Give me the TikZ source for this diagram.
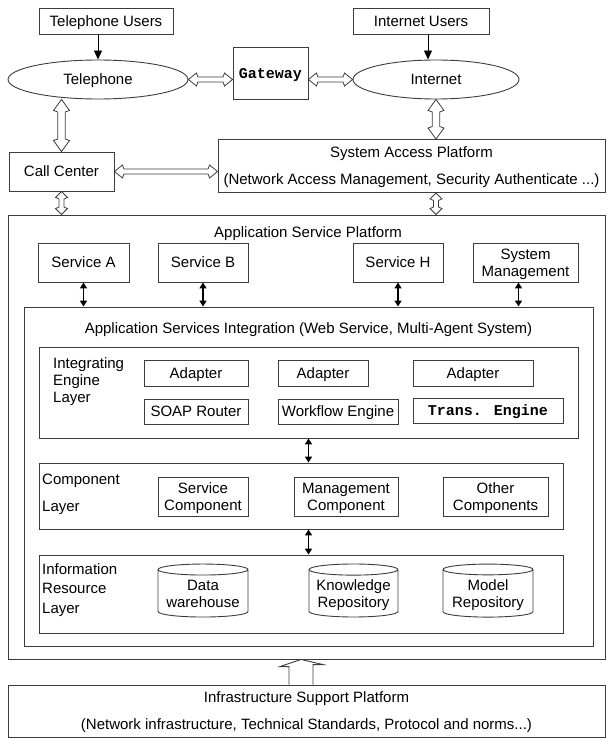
\documentclass[tikz,border=0pt]{standalone}
\usepackage{fontspec}
\setmainfont{Liberation Sans}
\newfontfamily\gbfont{Liberation Mono}
\usetikzlibrary{arrows.meta,shapes.geometric,calc}
\definecolor{lineg}{RGB}{60,60,60}

\tikzset{
  every node/.style={text depth=0pt},
  box/.style={draw=lineg,line width=0.9pt,inner sep=0pt,align=center},
  sz/.style 2 args={minimum width=#1,minimum height=#2},
  oval/.style={box,ellipse},
  cyl/.style={box,cylinder,shape border rotate=90,aspect=0.15},
  lbl/.style={anchor=west,align=left,inner sep=0pt},
  arr/.style={draw=black,line width=0.9pt,-{Triangle[width=8pt,length=9pt]}},
  dbl/.style={draw=black,line width=1.6pt,{Triangle[width=7pt,length=6pt]}-{Triangle[width=7pt,length=6pt]}},
  hol/.style={draw=lineg,line width=0.8pt,fill=white}
}
% hollow double arrow: head length, head length+notch, head half width, shaft half width, from, to
\newcommand\fatarrow[6]{%
  \draw[hol] (#5) -- ($(#5)!#1!(#6)!#3!90:(#6)$) -- ($(#5)!#2!(#6)!#4!90:(#6)$)
    -- ($(#6)!#2!(#5)!#4!-90:(#5)$) -- ($(#6)!#1!(#5)!#3!-90:(#5)$) -- (#6)
    -- ($(#6)!#1!(#5)!#3!90:(#5)$) -- ($(#6)!#2!(#5)!#4!90:(#5)$)
    -- ($(#5)!#2!(#6)!#4!-90:(#6)$) -- ($(#5)!#1!(#6)!#3!-90:(#6)$) -- cycle;}
\newcommand\fatH[2]{\fatarrow{8pt}{9.5pt}{6.5pt}{2.5pt}{#1}{#2}}
\newcommand\fatV[2]{\fatarrow{11pt}{12.5pt}{8pt}{3.8pt}{#1}{#2}}
\newcommand\fatS[2]{\fatarrow{6pt}{7.5pt}{6pt}{2.5pt}{#1}{#2}}

\begin{document}
\begin{tikzpicture}[x=1pt,y=-1pt,font=\fontsize{15}{17}\selectfont]
\useasboundingbox (0,0) rectangle (606,738);
% access side
\node[box,sz={134}{26}] (telu) at (106,21) {Telephone Users};
\node[box,sz={136}{26}] (intu) at (421,21) {Internet Users};
\node[oval,sz={180}{39}] (tel) at (98,79.5) {Telephone};
\node[oval,sz={166}{39}] (inet) at (436,79.5) {Internet};
\node[box,sz={75}{52}] (gate) at (270.5,73) {\gbfont\bfseries Gateway};
\node[box,sz={105}{39}] (cc) at (61.5,171.5) {Call Center};
\node[box,sz={387}{53},font=\fontsize{15}{27}\selectfont] (sap) at (411.5,166)
  {System Access Platform\\(Network Access Management, Security Authenticate ...)};
% application service platform
\node[box,sz={597}{444}] (asp) at (306.5,437) {};
\node (asptl) at (308,232) {Application Service Platform};
\node[box,sz={91}{39}] (svA) at (83.5,262.5) {Service A};
\node[box,sz={90}{39}] (svB) at (203,262.5) {Service B};
\node[box,sz={90}{39}] (svH) at (398,262.5) {Service H};
\node[box,sz={105}{39}] (sysm) at (525.5,262.5) {System\\Management};
\node[box,sz={569}{339}] (asi) at (308.5,476.5) {};
\node (asitl) at (308.5,328) {Application Services Integration (Web Service, Multi-Agent System)};
% integrating engine layer
\node[box,sz={539}{91}] (iel) at (308.5,392.5) {};
\node[lbl] (iellb) at (53,380) {Integrating\\Engine\\Layer};
\node[box,sz={104}{26}] (ad1) at (196,373) {Adapter};
\node[box,sz={90}{26}] (ad2) at (323,373) {Adapter};
\node[box,sz={120}{26}] (ad3) at (473,373) {Adapter};
\node[box,sz={104}{25}] (soap) at (196,411.5) {SOAP Router};
\node[box,sz={120}{25}] (wf) at (338,411.5) {Workflow Engine};
\node[box,sz={150}{25}] (trans) at (488,410.5) {\gbfont\bfseries Trans. Engine};
% component layer
\node[box,sz={524}{66}] (cl) at (301,496) {};
\node[lbl,font=\fontsize{15}{27}\selectfont] (cllb) at (42,492.5) {Component\\Layer};
\node[box,sz={90}{39}] (scomp) at (203,496.5) {Service\\Component};
\node[box,sz={104}{39}] (mcomp) at (346,496.5) {Management\\Component};
\node[box,sz={105}{39}] (ocomp) at (495.5,496.5) {Other\\Components};
% information resource layer
\node[box,sz={524}{78}] (irl) at (301,594) {};
\node[lbl,font=\fontsize{15}{19.5}\selectfont] (irllb) at (42,588.5) {Information\\Resource\\Layer};
\node[cyl,sz={90}{53}] (dw) at (203,593.5) {Data\\warehouse};
\node[cyl,sz={89}{53}] (kr) at (353.5,593.5) {Knowledge\\Repository};
\node[cyl,sz={90}{53}] (mr) at (488,593.5) {Model\\Repository};
% infrastructure
\node[box,sz={597}{52},font=\fontsize{15}{27}\selectfont] (isp) at (306.5,711)
  {Infrastructure Support Platform\\(Network infrastructure, Technical Standards, Protocol and norms...)};

% user arrows
\draw[arr] (telu.south -| tel.north) -- (tel.north);
\coordinate (ia) at ($(inet.north)+(-8,0)$);
\draw[arr] (ia |- intu.south) -- (ia);
% hollow double arrows
\coordinate (tg) at (tel.east -| gate.west);
\coordinate (gi) at (inet.west -| gate.east);
\coordinate (tc) at (cc.north |- tel.south);
\coordinate (cs) at (cc.east -| sap.west);
\coordinate (is) at (inet.south |- sap.north);
\coordinate (ca) at (cc.south |- asp.north);
\coordinate (sb) at (inet.south |- sap.south);
\coordinate (sa) at (inet.south |- asp.north);
\fatH{tel.east}{tg}
\fatH{gi}{inet.west}
\fatV{tc}{cc.north}
\fatH{cc.east}{cs}
\fatV{inet.south}{is}
\fatS{cc.south}{ca}
\fatS{sb}{sa}
% services to integration
\foreach \s in {svA,svB,svH}
  \draw[dbl] (\s.south) -- (\s.south |- asi.north);
\coordinate (sma) at ($(sysm.south)+(-7,0)$);
\draw[dbl] (sma) -- (sma |- asi.north);
\draw[dbl] (iel.south) -- (iel.south |- cl.north);
\draw[dbl] (iel.south |- cl.south) -- (iel.south |- irl.north);
% support arrow
\coordinate (up) at ($(isp.north)+(-5.5,0)$);
\draw[hol,line width=0.9pt] ($(up)+(-12,0)$) -- ($(up)+(-12,-18)$)
  -- ($(up)+(-21,-18)$) -- (up |- asp.south) -- ($(up)+(22,-20)$)
  -- ($(up)+(12,-20)$) -- ($(up)+(12,0)$);
\end{tikzpicture}
\end{document}
